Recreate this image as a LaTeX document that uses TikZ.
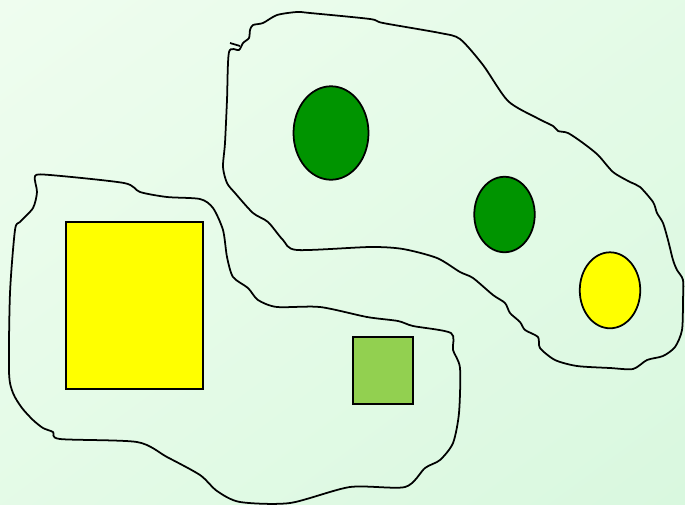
\documentclass[tikz,border=0pt]{standalone}
\usepackage{tikz}
\usetikzlibrary{shapes.geometric,shadings}
\definecolor{bgA}{RGB}{239,253,239}
\definecolor{bgB}{RGB}{217,248,223}
\definecolor{leaf}{RGB}{0,148,0}
\definecolor{lime}{RGB}{146,208,80}
\definecolor{sun}{RGB}{255,255,0}
\tikzset{
  blob/.style={draw, line width=1pt, line join=round},
  shp/.style={draw, line width=1pt, inner sep=0pt},
  box/.style={shp, rectangle},
  oval/.style={shp, ellipse},
}
\begin{document}
\begin{tikzpicture}[x=0.02cm, y=-0.02cm]
    \useasboundingbox (0,0) rectangle (685,504);
    \shade[upper left=bgA, lower right=bgB, upper right=bgA!50!bgB,
      lower left=bgA!50!bgB] (0,0) rectangle (685,504);
    % left blob
    \draw[blob] plot[smooth cycle, tension=0.45] coordinates {
      (35,176) (50,175) (124,183) (140,192) (167,197) (200,199) (213,208)
      (223,230) (227,257) (233,277) (248,288) (258,300) (277,307) (320,307)
      (367,317) (398,321) (413,326) (451,333) (453,350) (460,368) (459,413)
      (453,443) (440,460) (425,468) (405,487) (350,487) (290,503) (240,502)
      (217,491) (200,475) (167,457) (137,442) (60,439) (53,432) (43,428)
      (33,420) (22,408) (13,393) (9,372) (10,293) (15,230) (20,222) (33,208)
      (37,192)};
    % upper blob
    \draw[blob] plot[smooth cycle, tension=0.45] coordinates {
      (229,52) (227,100) (225,143) (223,167) (227,183) (235,193) (253,213)
      (268,222) (283,240) (297,250) (370,247) (403,249) (437,258) (460,272)
      (473,278) (493,295) (505,303) (510,313) (520,322) (525,330) (538,337)
      (540,348) (555,360) (577,366) (610,368) (633,369) (647,360) (663,356)
      (675,347) (682,330) (683,300) (683,280) (677,270) (673,260) (668,240)
      (663,223) (657,213) (653,202) (640,187) (630,182) (613,172) (598,155)
      (583,143) (568,133) (558,131) (553,126) (537,118) (508,101) (483,65)
      (460,39) (440,33) (383,23) (370,19) (310,13) (297,12) (277,15) (263,23)
      (253,25) (250,30) (249,38) (243,43) (239,50)};
    \draw[blob] (230,43) -- (240,46);
    % shapes
    \node[box, fill=sun, minimum width=2.74cm, minimum height=3.34cm]
      (big) at (134.5,305.5) {};
    \node[box, fill=lime, minimum width=1.2cm, minimum height=1.34cm]
      (small) at (383,370.5) {};
    \node[oval, fill=leaf, minimum width=1.5cm, minimum height=1.87cm]
      (e1) at (331,133) {};
    \node[oval, fill=leaf, minimum width=1.21cm, minimum height=1.51cm]
      (e2) at (504.5,214.5) {};
    \node[oval, fill=sun, minimum width=1.21cm, minimum height=1.52cm]
      (e3) at (610,290.3) {};
\end{tikzpicture}
\end{document}
